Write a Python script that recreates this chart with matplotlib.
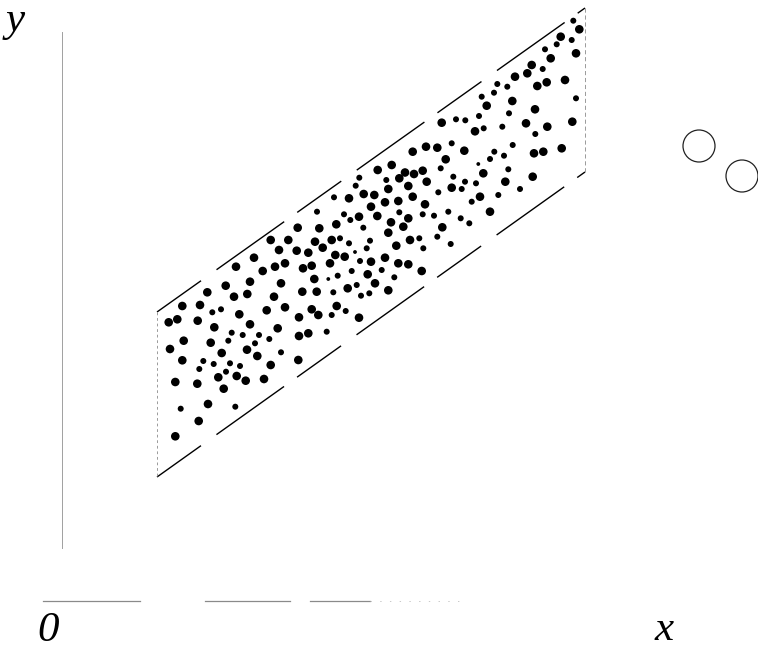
import matplotlib
matplotlib.use("Agg")
import matplotlib.pyplot as plt
import numpy as np

plt.rcParams["lines.scale_dashes"] = False

# Cloud of observations inside the band (x right, y downward page units)
pts = [
    # left part
    (270.7, 240, "L"), (254, 257.7, "L"), (236, 266.7, "L"), (262.7, 271, "L"),
    (250, 281.7, "L"), (225.7, 285.7, "L"), (207.3, 292.3, "L"), (234, 296.7, "L"),
    (247.3, 294, "L"), (274, 296.7, "L"), (182.3, 306, "L"), (200, 305, "L"),
    (212.3, 312.3, "S"), (221, 309.3, "S"), (239.3, 314.3, "L"), (266.7, 310.3, "L"),
    (168.7, 322.3, "L"), (177.3, 319.3, "L"), (197.7, 320.7, "L"), (214.3, 327.3, "L"),
    (250, 324.3, "L"), (231.7, 332.7, "S"), (242.7, 335, "S"), (259, 335, "S"),
    (183.7, 340.7, "L"), (210.7, 342.7, "L"), (228.3, 340.7, "S"), (255, 343.3, "S"),
    (269.3, 339, "S"), (170, 349, "L"), (247, 349.7, "L"), (221.7, 353, "L"),
    (257.3, 356, "L"), (182.3, 360.3, "L"), (203.3, 361, "S"), (213.7, 364, "S"),
    (230, 363.3, "S"), (240, 366, "S"), (270.7, 365, "L"), (199.3, 369, "S"),
    (226, 371.7, "S"), (218.3, 377.3, "L"), (236.7, 376, "L"), (245.7, 380.7, "L"),
    (264, 379, "L"), (175.3, 382, "L"), (197.3, 383.7, "L"), (223.7, 388.7, "L"),
    (208, 404, "L"), (235.3, 406.7, "S"), (180.7, 408.7, "S"), (198.7, 421, "L"),
    (175.3, 436.3, "L"),
    # middle-left part
    (391.7, 165, "L"), (377.7, 170, "L"), (399.3, 178.3, "L"), (386.3, 180, "S"),
    (359.3, 177.7, "S"), (355.7, 185.7, "S"), (388.3, 189, "L"), (363.7, 194, "L"),
    (374.3, 195, "L"), (334, 197.3, "S"), (349, 198.3, "L"), (385, 202.3, "L"),
    (398.3, 201, "L"), (371, 206.7, "L"), (317, 211.7, "S"), (344, 214.3, "S"),
    (359, 216.7, "L"), (350.3, 220, "S"), (377.3, 216, "L"), (399.3, 212.3, "S"),
    (336.3, 224.3, "L"), (391, 222.3, "L"), (297.7, 227.7, "L"), (319.3, 228.3, "L"),
    (363.3, 227.7, "S"), (388.3, 232.7, "L"), (288.3, 240, "L"), (315, 241.7, "L"),
    (331.7, 240, "L"), (340, 238.3, "S"), (322.7, 247.7, "L"), (349, 243.3, "S"),
    (370, 240.7, "S"), (396.3, 245.7, "L"), (279, 250, "L"), (296.7, 250.7, "L"),
    (308.3, 252.7, "L"), (335.3, 255, "L"), (344.7, 256.7, "L"), (355, 252, "T"),
    (366.7, 248.3, "S"), (385, 257.7, "L"), (285, 263.3, "L"), (275, 266.7, "L"),
    (303, 268.3, "L"), (311.7, 265.7, "L"), (330, 263.3, "L"), (360, 261, "S"),
    (371, 261.7, "L"), (398.3, 263.3, "L"), (314.3, 279, "L"), (328.3, 279, "T"),
    (337.7, 275.7, "S"), (351.7, 271, "S"), (367.7, 274.3, "L"), (381.7, 270, "S"),
    (394.3, 277.3, "S"), (281, 283.3, "L"), (302.3, 291.7, "L"), (316.7, 291.7, "L"),
    (333.3, 292.3, "S"), (347.7, 288.3, "L"), (356.7, 285, "S"), (375, 283.3, "L"),
    (361, 295.7, "S"), (369.3, 293.3, "S"), (388.3, 290.3, "L"), (285, 307.3, "L"),
    (311.7, 309.3, "L"), (318.3, 315, "L"), (299, 317.3, "L"), (336.7, 306, "L"),
    (345.7, 311, "S"), (331.7, 315, "S"), (359, 317.7, "L"), (277.7, 328.3, "L"),
    (308.3, 333.3, "L"), (299, 336, "L"), (326.7, 331.7, "S"), (281, 352.3, "S"),
    (298.3, 360, "L"),
    # middle-right part
    (515, 76.7, "L"), (497.3, 84, "S"), (507.3, 86.7, "S"), (494, 92.7, "S"),
    (481.7, 96.7, "S"), (512.3, 101, "L"), (486.7, 105.7, "L"), (509, 113.3, "S"),
    (479, 116, "S"), (441.7, 122.7, "L"), (456, 119.3, "S"), (465.3, 120.3, "S"),
    (475, 131.3, "L"), (483.7, 128.3, "S"), (502.3, 126.7, "S"), (412.7, 151.7, "L"),
    (426, 146.7, "L"), (437.3, 147.7, "L"), (451.7, 143.3, "S"), (464.3, 150.7, "L"),
    (512.7, 145, "S"), (494.3, 151.7, "S"), (490, 159, "S"), (504, 155.7, "S"),
    (445.7, 159.3, "L"), (440.7, 168.3, "S"), (478.3, 164, "T"), (508.3, 169.3, "S"),
    (483.3, 173.3, "L"), (405, 172.5, "L"), (414, 174, "L"), (422.7, 170.7, "L"),
    (408.3, 186, "L"), (426.7, 181.7, "L"), (453.3, 176.7, "S"), (465, 181.7, "S"),
    (476, 183.3, "S"), (505.3, 181.7, "L"), (451.7, 187.7, "L"), (461.7, 189, "S"),
    (520, 189, "S"), (438.3, 192.3, "S"), (412.7, 196.7, "L"), (480, 196.7, "L"),
    (498.3, 195, "S"), (471.7, 201.7, "S"), (425, 204.3, "L"), (448.3, 211.7, "S"),
    (490, 211.7, "L"), (422.7, 214.3, "S"), (434, 215.7, "S"), (408.3, 218.3, "L"),
    (460.7, 218.3, "S"), (403.3, 226.7, "L"), (469.3, 223.3, "S"), (442.3, 227.3, "L"),
    (437.3, 236.7, "S"), (410, 240, "L"), (419.3, 238.3, "S"), (423.3, 248.3, "S"),
    (450.7, 244, "S"), (408.3, 264.3, "L"), (421.7, 271, "L"),
    # right part
    (573.3, 20.7, "S"), (579.3, 29.3, "L"), (560.7, 36.7, "L"), (571.7, 40, "S"),
    (556.7, 44.3, "S"), (545, 49.3, "S"), (550.7, 58.3, "L"), (576, 53.3, "L"),
    (531.7, 65, "L"), (527.3, 73.3, "L"), (542.7, 69, "S"), (537.3, 86, "L"),
    (546.7, 82.3, "L"), (565, 80, "L"), (576, 98.3, "S"), (535, 109.3, "L"),
    (526, 123.3, "L"), (547.3, 126.7, "L"), (572.3, 121.7, "L"), (535.3, 134, "S"),
    (534, 153.3, "L"), (543.3, 151.7, "L"), (561.7, 148.3, "L"), (532.7, 176.7, "L"),
]
dot_x = [p[0] for p in pts]
dot_y = [p[1] for p in pts]
dot_kind = [p[2] for p in pts]

# Two outlying observations
out_x = [699, 742]
out_y = [146, 176]

# Band borders
band_x = [157, 585]
band_top = [312, 8]
band_bot = [477, 172]

fig = plt.figure(figsize=(7.58, 6.5), dpi=100)
ax = fig.add_axes([0, 0, 1, 1])
ax.set_xlim(0, 758)
ax.set_ylim(650, 0)
ax.axis("off")

px2pt = 72 / 100.0
diam = {"L": 8.6, "S": 6.0, "T": 3.8}
sizes = [(diam[k] * px2pt) ** 2 for k in dot_kind]
ax.scatter(dot_x, dot_y, s=sizes, c="black", linewidths=0, zorder=3)

ax.scatter(out_x, out_y, s=(32 * px2pt) ** 2, facecolors="none",
           edgecolors="#222222", linewidths=0.9, zorder=3)

dash = (0, (54 * px2pt, 19 * px2pt, 83 * px2pt, 16 * px2pt))
ax.plot(band_x, band_top, color="black", lw=1.0, linestyle=dash)
ax.plot(band_x, band_bot, color="black", lw=1.0, linestyle=dash)

# faint vertical sides of the band
ax.plot([band_x[0], band_x[0]], [band_top[0], band_bot[0]], color="#9a9a9a",
        lw=0.7, linestyle=(0, (2, 2)))
ax.plot([band_x[1], band_x[1]], [band_top[1], band_bot[1]], color="#9a9a9a",
        lw=0.7, linestyle=(0, (3, 2)))

# coordinate axes (faded)
ax.plot([62, 62], [32, 548], color="#a0a0a0", lw=0.7)
for x0, x1 in [(43, 140), (205, 290), (310, 370)]:
    ax.plot([x0, x1], [601, 601], color="#8a8a8a", lw=0.9)
ax.plot([370, 463], [601, 601], color="#c0c0c0", lw=0.6, linestyle=(0, (1, 6)))

font = dict(family="Liberation Serif", style="italic", fontsize=31, color="black")
ax.text(6, 31, "y", ha="left", va="baseline", **font)
ax.text(37, 641, "0", ha="left", va="baseline", **font)
ax.text(655, 640, "x", ha="left", va="baseline", **font)

fig.savefig("out.png", dpi=100)
